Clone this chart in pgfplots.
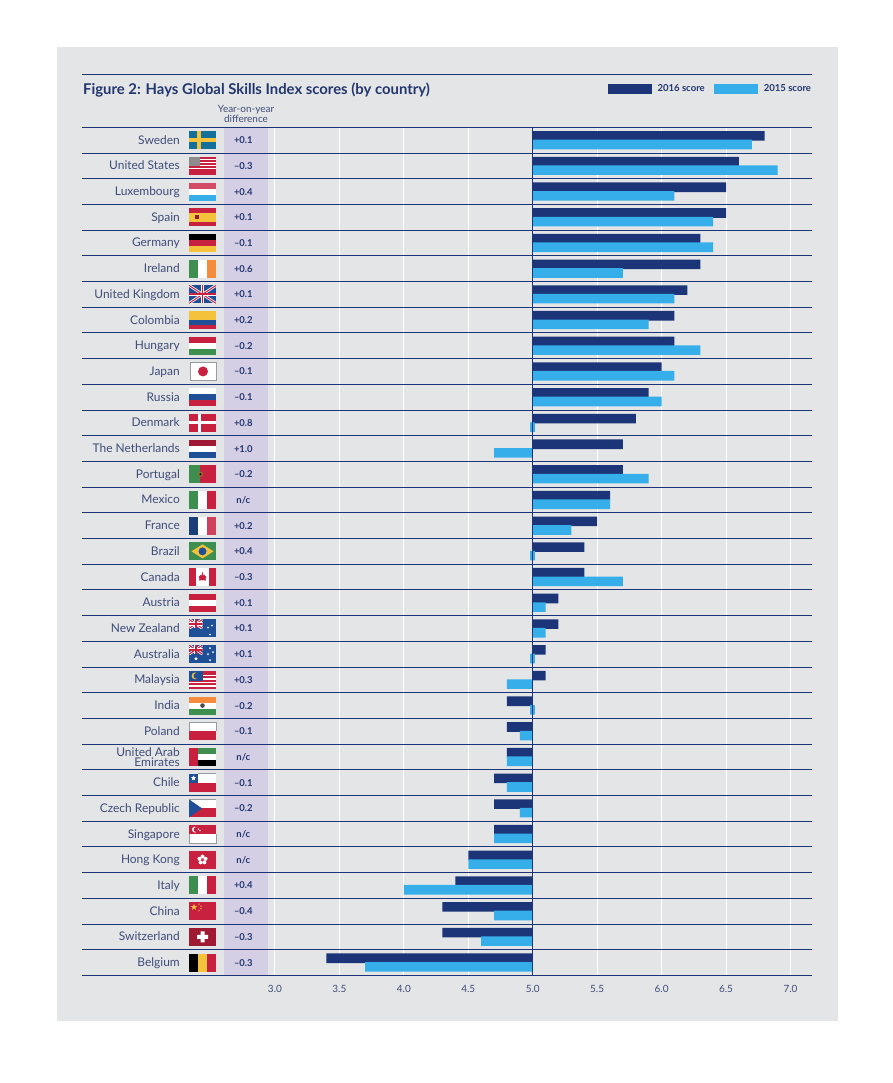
\documentclass[border=0pt]{standalone}
\usepackage{fontspec}
\setmainfont{Lato}
\usepackage{pgfplots}
\usepackage{pgfplotstable}
\pgfplotsset{compat=1.18}
\usetikzlibrary{shapes.geometric}

\definecolor{navy}{HTML}{1C3578}
\definecolor{sky}{HTML}{36AEEA}
\definecolor{panel}{HTML}{E4E5E7}
\definecolor{band}{HTML}{D5CFE6}
\definecolor{ink}{HTML}{3F4C78}
\definecolor{titleink}{HTML}{22366E}
\definecolor{fred}{HTML}{C8203F}
\definecolor{fgreen}{HTML}{3E8E4F}
\definecolor{fblue}{HTML}{1F4F96}
\definecolor{fyellow}{HTML}{F5C33B}
\definecolor{forange}{HTML}{F58B3C}
\definecolor{fedge}{HTML}{9A9AA5}

\pgfplotstableread{
row s2016 s2015 diff
0 6.8 6.7 +0.1
1 6.6 6.9 –0.3
2 6.5 6.1 +0.4
3 6.5 6.4 +0.1
4 6.3 6.4 –0.1
5 6.3 5.7 +0.6
6 6.2 6.1 +0.1
7 6.1 5.9 +0.2
8 6.1 6.3 –0.2
9 6.0 6.1 –0.1
10 5.9 6.0 –0.1
11 5.8 5.0 +0.8
12 5.7 4.7 +1.0
13 5.7 5.9 –0.2
14 5.6 5.6 n/c
15 5.5 5.3 +0.2
16 5.4 5.0 +0.4
17 5.4 5.7 –0.3
18 5.2 5.1 +0.1
19 5.2 5.1 +0.1
20 5.1 5.0 +0.1
21 5.1 4.8 +0.3
22 4.8 5.0 –0.2
23 4.8 4.9 –0.1
24 4.8 4.8 n/c
25 4.7 4.8 –0.1
26 4.7 4.9 –0.2
27 4.7 4.7 n/c
28 4.5 4.5 n/c
29 4.4 4.0 +0.4
30 4.3 4.7 –0.4
31 4.3 4.6 –0.3
32 3.4 3.7 –0.3
}\scores

% flag helpers, local coordinates 27 x 18 with y up
\newcommand{\flag}[2]{\begin{scope}[shift={(189,{-127.3-25.7*(#1+0.5)-9})}]#2\end{scope}}
\newcommand{\hb}[3]{\fill[#3] (0,#1) rectangle (27,#2);}
\newcommand{\vb}[3]{\fill[#3] (#1,0) rectangle (#2,18);}
\newcommand{\jack}[2]{% union jack in a w x h box
  \begin{scope}
    \clip (0,0) rectangle (#1,#2);
    \fill[fblue] (0,0) rectangle (#1,#2);
    \draw[white,line width=2.6pt] (0,0) -- (#1,#2) (0,#2) -- (#1,0);
    \draw[fred,line width=1pt] (0,0) -- (#1,#2) (0,#2) -- (#1,0);
    \draw[white,line width=3.4pt] (0,{#2/2}) -- (#1,{#2/2}) ({#1/2},0) -- ({#1/2},#2);
    \draw[fred,line width=1.8pt] (0,{#2/2}) -- (#1,{#2/2}) ({#1/2},0) -- ({#1/2},#2);
  \end{scope}}
\newcommand{\smallstar}[4]{\node[star,star points=5,star point ratio=2.3,fill=#4,draw=none,inner sep=0pt,minimum size=#3] at (#1,#2) {};}

\begin{document}
\begin{tikzpicture}[x=1bp,y=1bp]
\useasboundingbox (0,0) rectangle (893,-1083);
\fill[white] (0,0) rectangle (893,-1083);
\fill[panel] (57,-47) rectangle (838,-1021);
\fill[band] (224,-127.3) rectangle (268,-975.4);
\draw[navy,line width=1bp] (82,-74.3) -- (812,-74.3);

\node[anchor=base west,inner sep=0pt,font=\fontsize{14.9}{15}\selectfont\bfseries,text=titleink] at (83,-94) {Figure 2: Hays Global Skills Index scores (by country)};
\node[align=center,inner sep=0pt,font=\fontsize{10}{10}\selectfont,text=ink] at (246,-113.5) {Year-on-year\\difference};

\begin{axis}[
    at={(82bp,-975.4bp)},
    anchor=south west,
    scale only axis,
    width=730bp,
    height=848.1bp,
    xmin=1.503, xmax=7.167,
    ymin=-0.5, ymax=32.5,
    y dir=reverse,
    x coord trafo/.code={\pgfmathparse{#1-5}},
    clip=false,
    axis line style={draw=none},
    tick style={draw=none},
    xtick={3,3.5,4,4.5,5,5.5,6,6.5,7},
    xticklabels={3.0,3.5,4.0,4.5,5.0,5.5,6.0,6.5,7.0},
    xticklabel style={font=\fontsize{10}{10}\selectfont,text=ink,inner sep=0pt,yshift=-9.5bp},
    ytick={0,1,...,32},
    yticklabels={Sweden,United States,Luxembourg,Spain,Germany,Ireland,United Kingdom,Colombia,Hungary,Japan,Russia,Denmark,The Netherlands,Portugal,Mexico,France,Brazil,Canada,Austria,New Zealand,Australia,Malaysia,India,Poland,{\raisebox{-5.5bp}[0pt][0pt]{\shortstack[r]{United Arab\\[-1.5pt]Emirates}}},Chile,Czech Republic,Singapore,Hong Kong,Italy,China,Switzerland,Belgium},
    yticklabel style={font=\fontsize{12}{10.5}\selectfont,text=ink,inner sep=0pt,text height=8.5bp,text depth=2.5bp,anchor=east,xshift=98bp,yshift=-1bp},
    minor ytick={-0.5,0.5,...,32.5},
    xmajorgrids=true,
    yminorgrids=true,
    major grid style={white,line width=1bp},
    minor grid style={navy,line width=1bp},
    legend style={at={(1.0014,1.0455)},anchor=east,draw=none,fill=none,inner sep=0pt,outer sep=0pt,
      font=\fontsize{9.6}{10}\selectfont\bfseries,text=titleink,legend columns=2,
      /tikz/every even column/.style={column sep=7bp},
      /tikz/every odd column/.style={column sep=4bp}},
    legend cell align=left,
]
\addplot[xbar,bar width=9.6bp,bar shift=4.3bp,fill=navy,draw=none,
    legend image code/.code={\fill[navy] (0bp,-5bp) rectangle (44bp,5bp);}] table[x=s2016,y=row] {\scores};
\addplot[xbar,bar width=9.6bp,bar shift=-4.3bp,fill=sky,draw=none,
    legend image code/.code={\fill[sky] (0bp,-5bp) rectangle (44bp,5bp);}] table[x=s2015,y=row] {\scores};
% 2015 scores of exactly 5.0 show as a thin sliver on the baseline
\addplot[xbar,forget plot,bar width=9.6bp,bar shift=-4.3bp,fill=sky,draw=sky,line width=5bp] coordinates {(5.0,11)(5.0,16)(5.0,20)(5.0,22)};
% year-on-year column
\addplot[forget plot,draw=none,mark=none,point meta=explicit symbolic,
    nodes near coords,nodes near coords align={center},
    every node near coord/.append style={font=\fontsize{9.5}{9.5}\selectfont\bfseries,text=titleink,inner sep=0pt,text height=7bp,text depth=0bp}]
    table[x expr=2.755,y=row,meta=diff] {\scores};
\draw[navy,line width=1bp] (axis cs:5,-0.5) -- (axis cs:5,32.5);
\legend{2016 score,2015 score}
\end{axis}

\flag{0}{\hb{0}{18}{fblue!70!cyan!85!black}\vb{8}{12}{fyellow}\hb{7}{11}{fyellow}}
\flag{1}{\hb{0}{18}{fred}\hb{5.5}{7}{white}\hb{8.5}{10}{white}\hb{11.5}{13}{white}\hb{14.5}{16}{white}\fill[black!45] (0,9) rectangle (11,18);}
\flag{2}{\hb{12}{18}{fred!80!white}\hb{6}{12}{white}\hb{0}{6}{sky}}
\flag{3}{\hb{0}{18}{fred}\hb{4.5}{13.5}{fyellow}\fill[fred!75!black] (6,7) rectangle (10,11);}
\flag{4}{\hb{12}{18}{black}\hb{6}{12}{fred}\hb{0}{6}{fyellow}}
\flag{5}{\vb{0}{9}{fgreen}\vb{9}{18}{white}\vb{18}{27}{forange}}
\flag{6}{\jack{27}{18}}
\flag{7}{\hb{9}{18}{fyellow}\hb{4.5}{9}{fblue}\hb{0}{4.5}{fred}}
\flag{8}{\hb{12}{18}{fred}\hb{6}{12}{white}\hb{0}{6}{fgreen}}
\flag{9}{\fill[white] (1,0) rectangle (27,18);\draw[fedge,line width=0.6pt] (1,0) rectangle (27,18);\fill[fred] (14,9) circle (5);}
\flag{10}{\hb{12}{18}{white}\hb{6}{12}{fblue}\hb{0}{6}{fred}}
\flag{11}{\hb{0}{18}{fred}\vb{9}{12}{white}\hb{7.5}{10.5}{white}}
\flag{12}{\hb{12}{18}{fred!80!black}\hb{6}{12}{white}\hb{0}{6}{fblue}}
\flag{13}{\vb{0}{11}{fgreen}\vb{11}{27}{fred}\fill[fyellow!60!black] (11.5,9) circle (2.6);\fill[black] (11.5,9) circle (1.2);}
\flag{14}{\vb{0}{9}{fgreen}\vb{9}{18}{white}\vb{18}{27}{fred}}
\flag{15}{\vb{0}{9}{fblue!80!black}\vb{9}{18}{white}\vb{18}{27}{fred!85!white}}
\flag{16}{\hb{0}{18}{fgreen}\fill[fyellow] (2.5,9) -- (13.5,16) -- (24.5,9) -- (13.5,2) -- cycle;\fill[fblue] (13.5,9) circle (4);}
\flag{17}{\vb{0}{7}{fred}\vb{7}{20}{white}\vb{20}{27}{fred}\fill[fred] (13.5,3.5) -- (13.5,6) -- (10,5.5) -- (10.5,8) -- (9.5,9) -- (11.5,11) -- (12.5,10.5) -- (13.5,14.5) -- (14.5,10.5) -- (15.5,11) -- (17.5,9) -- (16.5,8) -- (17,5.5) -- (13.5,6) -- cycle;}
\flag{18}{\hb{12}{18}{fred}\hb{6}{12}{white}\hb{0}{6}{fred}}
\flag{19}{\hb{0}{18}{fblue}\begin{scope}[shift={(0,9)}]\jack{13.5}{9}\end{scope}\smallstar{19}{10}{2.2}{white}\smallstar{23}{12}{2.2}{white}\smallstar{21}{3}{2.2}{white}}
\flag{20}{\hb{0}{18}{fblue}\begin{scope}[shift={(0,9)}]\jack{13.5}{9}\end{scope}\smallstar{7}{4.5}{4}{white}\smallstar{19}{9}{2.5}{white}\smallstar{24}{11}{2.5}{white}\smallstar{21}{15}{2.5}{white}\smallstar{21}{3}{2.5}{white}}
\flag{21}{\hb{0}{18}{fred}\hb{2}{3.5}{white}\hb{5.5}{7}{white}\hb{9}{10.5}{white}\hb{12.5}{14}{white}\fill[fblue] (0,8) rectangle (14,18);\fill[fyellow] (6,13) circle (3.4);\fill[fblue] (7.3,13) circle (2.8);}
\flag{22}{\hb{12}{18}{forange}\hb{6}{12}{white}\hb{0}{6}{fgreen}\fill[black!70] (13.5,9) circle (2.3);}
\flag{23}{\hb{9}{18}{white}\hb{0}{9}{fred}\draw[fedge,line width=0.6pt] (0,9) -- (0,18) -- (27,18) -- (27,9);}
\flag{24}{\hb{12}{18}{fgreen}\hb{6}{12}{white}\hb{0}{6}{black}\vb{0}{8.5}{fred}}
\flag{25}{\hb{9}{18}{white}\hb{0}{9}{fred}\fill[fblue] (0,9) rectangle (9,18);\smallstar{4.5}{13.5}{5.5}{white}\draw[fedge,line width=0.5pt] (9,18) -- (27,18);}
\flag{26}{\hb{9}{18}{white}\hb{0}{9}{fred}\fill[fblue] (0,0) -- (13,9) -- (0,18) -- cycle;\draw[fedge,line width=0.5pt] (0,18) -- (27,18);}
\flag{27}{\hb{9}{18}{fred}\hb{0}{9}{white}\fill[white] (6,13.5) circle (3);\fill[fred] (7.2,13.5) circle (2.5);\fill[white] (9.5,14) circle (0.8) (11,12.5) circle (0.8);\draw[fedge,line width=0.4pt] (0,9) -- (0,0) -- (27,0) -- (27,9);}
\flag{28}{\hb{0}{18}{fred}\foreach \a in {18,90,162,234,306}{\fill[white] (13.5,9) ++(\a:3.2) circle (2);}}
\flag{29}{\vb{0}{9}{fgreen}\vb{9}{18}{white}\vb{18}{27}{fred}}
\flag{30}{\hb{0}{18}{fred}\smallstar{5}{13}{6.5}{fyellow}\fill[fyellow] (10,16) circle (0.7) (12,14) circle (0.7) (12,11.5) circle (0.7) (10,9.5) circle (0.7);}
\flag{31}{\hb{0}{18}{fred!80!black}\fill[white] (11.5,3.5) rectangle (15.5,14.5) (8,7) rectangle (19,11);}
\flag{32}{\vb{0}{9}{black}\vb{9}{18}{fyellow}\vb{18}{27}{fred}}
\end{tikzpicture}
\end{document}
